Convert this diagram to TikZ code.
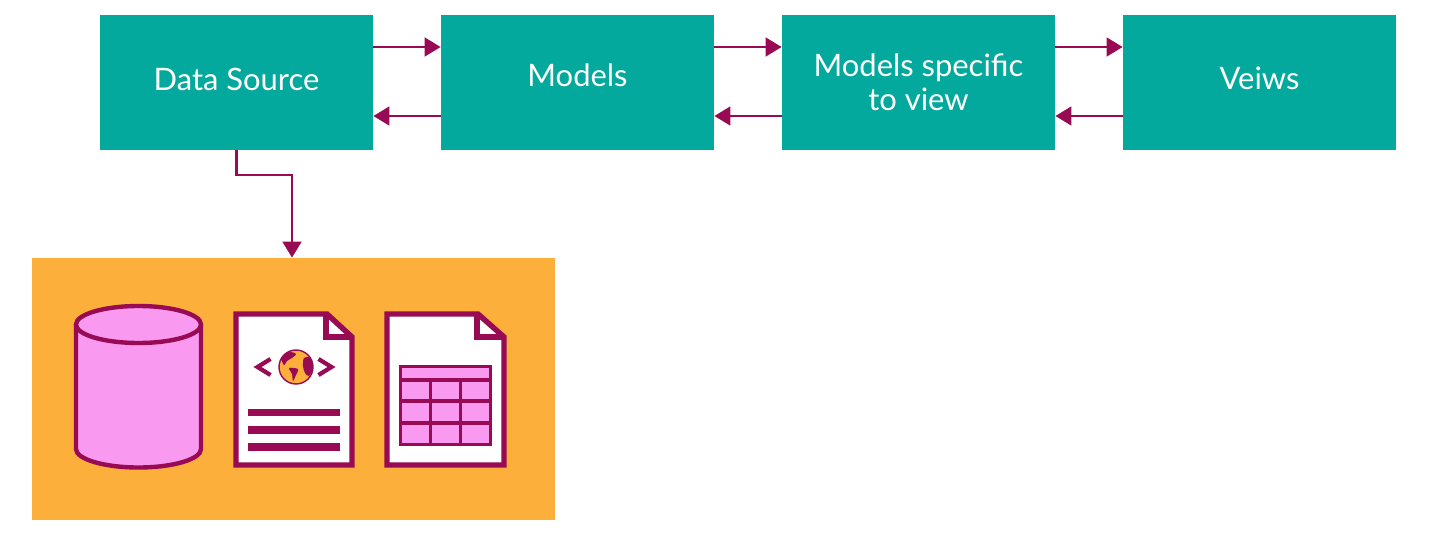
\documentclass[tikz,border=0pt]{standalone}
\usepackage{fontspec}
\setmainfont{Lato}
\usetikzlibrary{arrows.meta}
\definecolor{tealbox}{HTML}{04A99D}
\definecolor{panelorange}{HTML}{FDAF3C}
\definecolor{wine}{HTML}{990A55}
\definecolor{pinkfill}{HTML}{F999F0}
\tikzset{
    layerbox/.style={fill=tealbox, text=white, align=center, font=\fontsize{17.6}{19.4}\selectfont,
        minimum width=5.46cm, minimum height=2.7cm, inner sep=0pt},
    flow/.style={draw=wine, line width=1.7pt, -{Triangle[length=0.32cm, width=0.37cm]}},
    icon/.style={draw=wine, line width=3.1pt, miter limit=10},
    thinline/.style={draw=wine, line width=2pt},
}
\begin{document}
\begin{tikzpicture}[x=0.02cm, y=-0.02cm]
    \useasboundingbox (0,0) rectangle (1430,541);

    % Layer boxes
    \node[layerbox] (dsrc) at (236.5,82.5) {\raisebox{4pt}{Data Source}};
    \node[layerbox] (models) at (577.5,82.5) {\raisebox{8pt}{Models}};
    \node[layerbox] (mview) at (918.5,82.5) {Models specific\\to view};
    \node[layerbox] (views) at (1259.5,82.5) {\raisebox{5pt}{Veiws}};

    % Panel below the data source
    \node[fill=panelorange, minimum width=10.46cm, minimum height=5.24cm, inner sep=0pt] (store) at (293.5,389) {};

    % Arrow heights between the boxes
    \coordinate (fwd) at (0,47);
    \coordinate (back) at (0,116);
    \coordinate (bend) at (292,175);

    % Draw Edges
    \draw[flow] (dsrc.east |- fwd) -- (models.west |- fwd);
    \draw[flow] (models.east |- fwd) -- (mview.west |- fwd);
    \draw[flow] (mview.east |- fwd) -- (views.west |- fwd);
    \draw[flow] (models.west |- back) -- (dsrc.east |- back);
    \draw[flow] (mview.west |- back) -- (models.east |- back);
    \draw[flow] (views.west |- back) -- (mview.east |- back);
    \draw[flow] (dsrc.south) |- (bend) -- (store.north -| bend);

    % Database cylinder
    \draw[icon, fill=pinkfill, line width=2.5pt] (76,324.5) -- (76,449)
        arc[start angle=180, end angle=0, x radius=62.5, y radius=18.5] -- (201,324.5);
    \draw[icon, fill=pinkfill, line width=2.5pt] (138.5,324.5) ellipse[x radius=62.5, y radius=18.5];

    % Web page icon
    \draw[icon, fill=white] (236,314) -- (327,314) -- (352,337) -- (352,465) -- (236,465) -- cycle;
    \draw[icon] (326,314) -- (326,337) -- (352,337);
    \draw[wine, line width=2.4pt] (270.5,359) -- (257.5,367) -- (270.5,375);
    \draw[wine, line width=2.4pt] (318.5,359) -- (331.5,367) -- (318.5,375);
    \begin{scope}
        \clip (296,367) circle[radius=17];
        \fill[panelorange] (279,350) rectangle (313,384);
        \fill[wine] plot[smooth cycle] coordinates {(281,357) (290,352) (296,354) (292,358) (287,361) (284,365)};
        \fill[wine] plot[smooth cycle] coordinates {(289,368) (298,369) (296,375) (293,381) (292,374)};
        \fill[wine] plot[smooth cycle] coordinates {(304,358) (311,358) (313,368) (309,376) (305,373) (303,366)};
    \end{scope}
    \draw[thinline, line width=0.8pt] (296,367) circle[radius=17];
    \foreach \y in {412.5,430,447}
        \fill[wine] (248,\y-3.6) rectangle (340,\y+3.6);

    % Spreadsheet icon
    \draw[icon, fill=white] (387,314) -- (478,314) -- (504,337) -- (504,465) -- (387,465) -- cycle;
    \draw[icon] (477,314) -- (477,337) -- (504,337);
    \draw[thinline, fill=pinkfill] (400.5,366.5) rectangle (490.5,444.5);
    \draw[thinline] (400.5,380) -- (490.5,380);
    \draw[thinline] (400.5,401) -- (490.5,401);
    \draw[thinline] (400.5,423) -- (490.5,423);
    \draw[thinline] (430.5,380) -- (430.5,444.5);
    \draw[thinline] (460.5,380) -- (460.5,444.5);
\end{tikzpicture}
\end{document}
